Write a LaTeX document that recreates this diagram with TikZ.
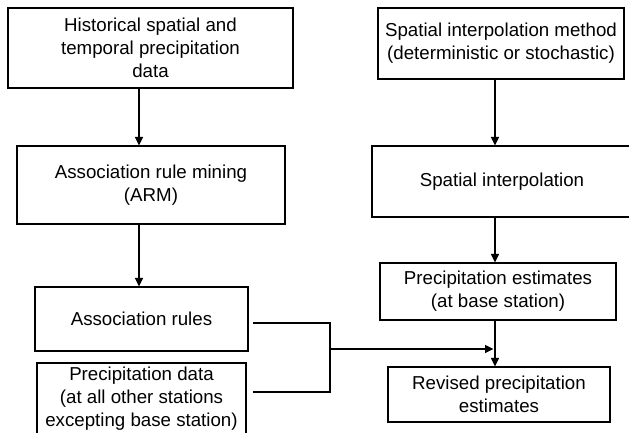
\documentclass[tikz,border=0pt]{standalone}
\usepackage{fontspec}
\setmainfont{Liberation Sans}
\usetikzlibrary{arrows.meta}
\begin{document}
\begin{tikzpicture}[x=1pt,y=-1pt,
		box/.style={draw, line width=1.1pt, align=center, inner sep=0pt,
			font=\fontsize{18.7}{23}\selectfont},
		arr/.style={line width=1.2pt, -{Triangle[length=8.5pt,width=8pt]}},
		link/.style={line width=1.2pt}]
			\useasboundingbox (0,0) rectangle (629,433);
			\clip (0,0) rectangle (629,433);
			\coordinate (colL) at (139,0);
			\coordinate (colR) at (495,0);
			\coordinate (jtop) at (330,323);
			\coordinate (jbot) at (330,392);
			\coordinate (join) at (330,349);

			% left column
			\node [box, minimum width=285pt, minimum height=80pt] (hist) at (150.5,48) {Historical spatial and\\temporal precipitation\\data};
			\node [box, minimum width=268pt, minimum height=78pt] (arm) at (151,185) {Association rule mining\\(ARM)};
			\node [box, minimum width=213pt, minimum height=64pt] (rules) at (141.5,319) {Association rules};
			\node [box, minimum width=209pt, minimum height=72pt] (data) at (141.5,399) {Precipitation data\\(at all other stations\\excepting base station)};

			% right column
			\node [box, minimum width=246pt, minimum height=71pt] (method) at (501,43.5) {Spatial interpolation method\\(deterministic or stochastic)};
			\node [box, minimum width=260pt, minimum height=71pt] (interp) at (502,181.5) {Spatial interpolation};
			\node [box, minimum width=236pt, minimum height=57pt] (est) at (498,291.5) {Precipitation estimates\\(at base station)};
			\node [box, minimum width=222pt, minimum height=55pt] (revised) at (499,394.5) {Revised precipitation\\estimates};

			\draw [arr] (hist.south -| colL) -- (arm.north -| colL);
			\draw [arr] (arm.south -| colL) -- (rules.north -| colL);
			\draw [arr] (method.south -| colR) -- (interp.north -| colR);
			\draw [arr] (interp.south -| colR) -- (est.north -| colR);
			\draw [arr] (est.south -| colR) -- (revised.north -| colR);

%			rules and data meet, then on to the revised estimates
			\draw [link, shorten <=4pt, shorten >=6pt] (jtop -| rules.east) -- (jtop) -- (jbot) -- (jbot -| data.east);
			\draw [arr, shorten >=1.5pt] (join) -- (join -| colR);
		\end{tikzpicture}
\end{document}
